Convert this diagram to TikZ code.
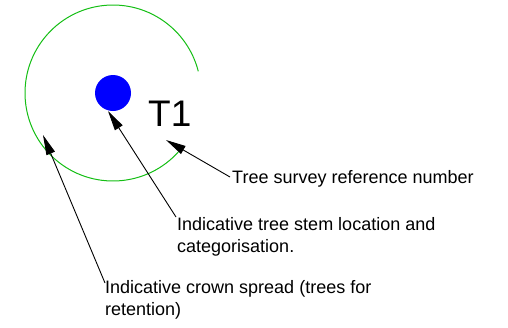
\documentclass[tikz,border=0pt]{standalone}
\usepackage{fontspec}
\setmainfont{Liberation Sans}
\usetikzlibrary{arrows.meta}
\definecolor{crown}{RGB}{20,190,20}
\tikzset{
  lbl/.style={inner sep=0pt, font=\fontsize{18}{22}\selectfont, align=left},
  leader/.style={draw=black, line width=0.9pt, -{Triangle[length=20pt,width=9pt]}},
}
\begin{document}
\begin{tikzpicture}[x=1pt,y=-1pt]
\useasboundingbox (0,0) rectangle (508,327);
% crown spread arc
\draw[crown, line width=1pt] (113,93) ++(41.4:88) arc[start angle=41.4, end angle=345.7, radius=88];
% stem
\node[circle, fill=blue, minimum size=36pt, inner sep=0pt] (stem) at (113,93) {};
% reference number
\node[inner sep=0pt, anchor=base west, font=\fontsize{37}{40}\selectfont] (ref) at (148,126) {T1};
% labels
\node[lbl, anchor=base west] (t1) at (232,183) {Tree survey reference number};
\node[lbl, anchor=north west] (t2) at (177,217) {Indicative tree stem location and\\categorisation.};
\node[lbl, anchor=north west] (t3) at (105,280) {Indicative crown spread (trees for\\retention)};
% leader ends
\coordinate (a1) at (166,140);
\coordinate (s1) at (230,177);
\coordinate (a2) at (108,111);
\coordinate (s2) at (176,217);
\coordinate (a3) at (43,135);
\coordinate (s3) at (105,283);
\draw[leader] (s1) -- (a1);
\draw[leader] (s2) -- (a2);
\draw[leader] (s3) -- (a3);
\end{tikzpicture}
\end{document}
